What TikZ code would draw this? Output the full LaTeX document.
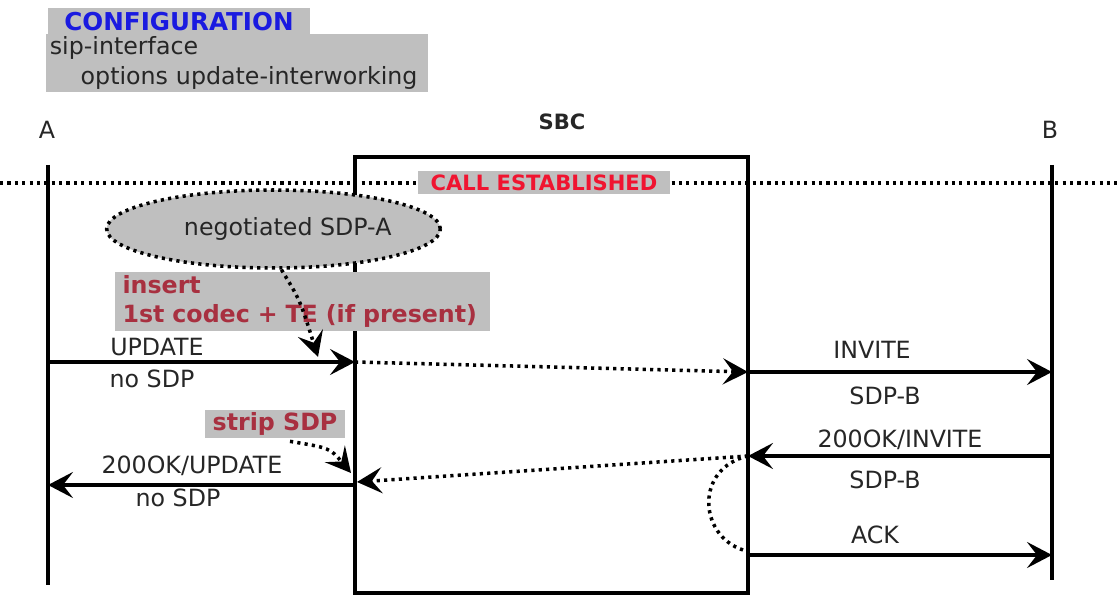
\documentclass[tikz,border=0pt]{standalone}
\usepackage{fontspec}
\setmainfont{DejaVu Sans}
\usetikzlibrary{positioning,shapes.geometric,arrows.meta,calc}
\definecolor{notegray}{HTML}{BFBFBF}
\definecolor{cfgblue}{HTML}{1A1AE0}
\definecolor{callred}{HTML}{F01430}
\definecolor{notered}{HTML}{A83040}
\definecolor{ink}{HTML}{262626}

\tikzset{
  msg/.style={-{Stealth[length=5mm,width=5.2mm,inset=2mm]}, line width=1.8pt, color=black},
  dotmsg/.style={msg, line width=2pt, dash pattern=on 1.8pt off 2.4pt},
  dotline/.style={line width=2pt, dash pattern=on 1.8pt off 2.4pt},
  lifeline/.style={line width=1.8pt},
  lbl/.style={font=\fontsize{13.5}{16}\selectfont, text=ink, inner sep=1pt},
  note/.style={fill=notegray, inner sep=0pt},
}

\begin{document}
\begin{tikzpicture}[x=0.02cm, y=-0.02cm]
\useasboundingbox (0,0) rectangle (1119,597);
\node[note, minimum width=5.24cm, minimum height=0.54cm, font=\fontsize{14}{16}\selectfont\bfseries, text=cfgblue] (cfg) at (179,21.5) {CONFIGURATION};
\node[note, anchor=north west, minimum width=7.64cm, minimum height=1.16cm, text width=7.5cm, align=left, font=\fontsize{13.5}{17}\selectfont, text=ink] (cfgbody) at (46,34)
{sip-interface\\\hspace*{1.3em}options update-interworking};

\node[lbl] (A) at (47,130) {A};
\node[lbl, font=\fontsize{12}{14}\selectfont\bfseries] (SBC) at (562,122) {SBC};
\node[lbl] (B) at (1050,130) {B};

\coordinate (Atop) at (48,165);
\coordinate (Abot) at (48,585);
\coordinate (Btop) at (1052,165);
\coordinate (Bbot) at (1052,580);
\draw[lifeline] (Atop) -- (Abot);
\draw[lifeline] (Btop) -- (Bbot);
\node[draw, line width=1.8pt, minimum width=7.86cm, minimum height=8.72cm, inner sep=0pt] (sbcbox) at (551.5,375) {};

\coordinate (w0) at (0,183);
\coordinate (e0) at (1119,183);
\draw[dotline] (w0) -- (e0);
\node[note, minimum width=5.04cm, minimum height=0.46cm, font=\fontsize{12}{14}\selectfont\bfseries, text=callred] (call) at (544,183) {CALL ESTABLISHED};

\node[ellipse, draw, dotline, fill=notegray, minimum width=6.26cm, minimum height=1.56cm, inner sep=0pt, font=\fontsize{13.5}{16}\selectfont, text=ink] (sdpa) at (273.5,229) {\hspace*{1.2em}negotiated SDP-A};
\node[note, minimum width=7.5cm, minimum height=1.18cm, text width=7.2cm, align=left, font=\fontsize{13.5}{17}\selectfont\bfseries, text=notered] (insert) at (302.5,301.5)
{insert\\1st codec + TE (if present)};
\node[note, minimum width=2.8cm, minimum height=0.56cm, font=\fontsize{13.5}{16}\selectfont\bfseries, text=notered] (strip) at (275,424) {strip SDP};

\coordinate (a1) at (48,362);
\coordinate (s1) at (355,362);
\coordinate (s2) at (748,372);
\coordinate (b2) at (1052,372);
\coordinate (b3) at (1052,456);
\coordinate (s3) at (748,456);
\coordinate (s4) at (357,482);
\coordinate (s5) at (355,485);
\coordinate (a5) at (48,485);
\coordinate (s6) at (748,555);
\coordinate (b6) at (1052,555);
\coordinate (t1) at (318,357);
\coordinate (t2) at (351,473);
\coordinate (c1) at (743,550);

\draw[msg] (a1) -- (s1);
\draw[dotmsg] (s1) -- (s2);
\draw[msg] (s2) -- (b2);
\draw[msg] (b3) -- (s3);
\draw[dotmsg] (s3) -- (s4);
\draw[msg] (s5) -- (a5);
\draw[msg] (s6) -- (b6);
\draw[dotline] (s3) .. controls (695,468) and (698,535) .. (c1);
\draw[dotmsg] (sdpa.281) .. controls (300,300) .. (t1);
\draw[dotmsg] ($(strip.south)+(15,3)$) .. controls (330,448) .. (t2);

\node[lbl] (upd) at (157,347) {UPDATE};
\node[lbl] (upd2) at (152,379) {no SDP};
\node[lbl] (inv) at (872,350) {INVITE};
\node[lbl] (inv2) at (885,396) {SDP-B};
\node[lbl] (okinv) at (900,440) {200OK/INVITE};
\node[lbl] (okinv2) at (885,480) {SDP-B};
\node[lbl] (okupd) at (192,466) {200OK/UPDATE};
\node[lbl] (okupd2) at (178,498) {no SDP};
\node[lbl] (ack) at (875,535) {ACK};
\end{tikzpicture}
\end{document}
